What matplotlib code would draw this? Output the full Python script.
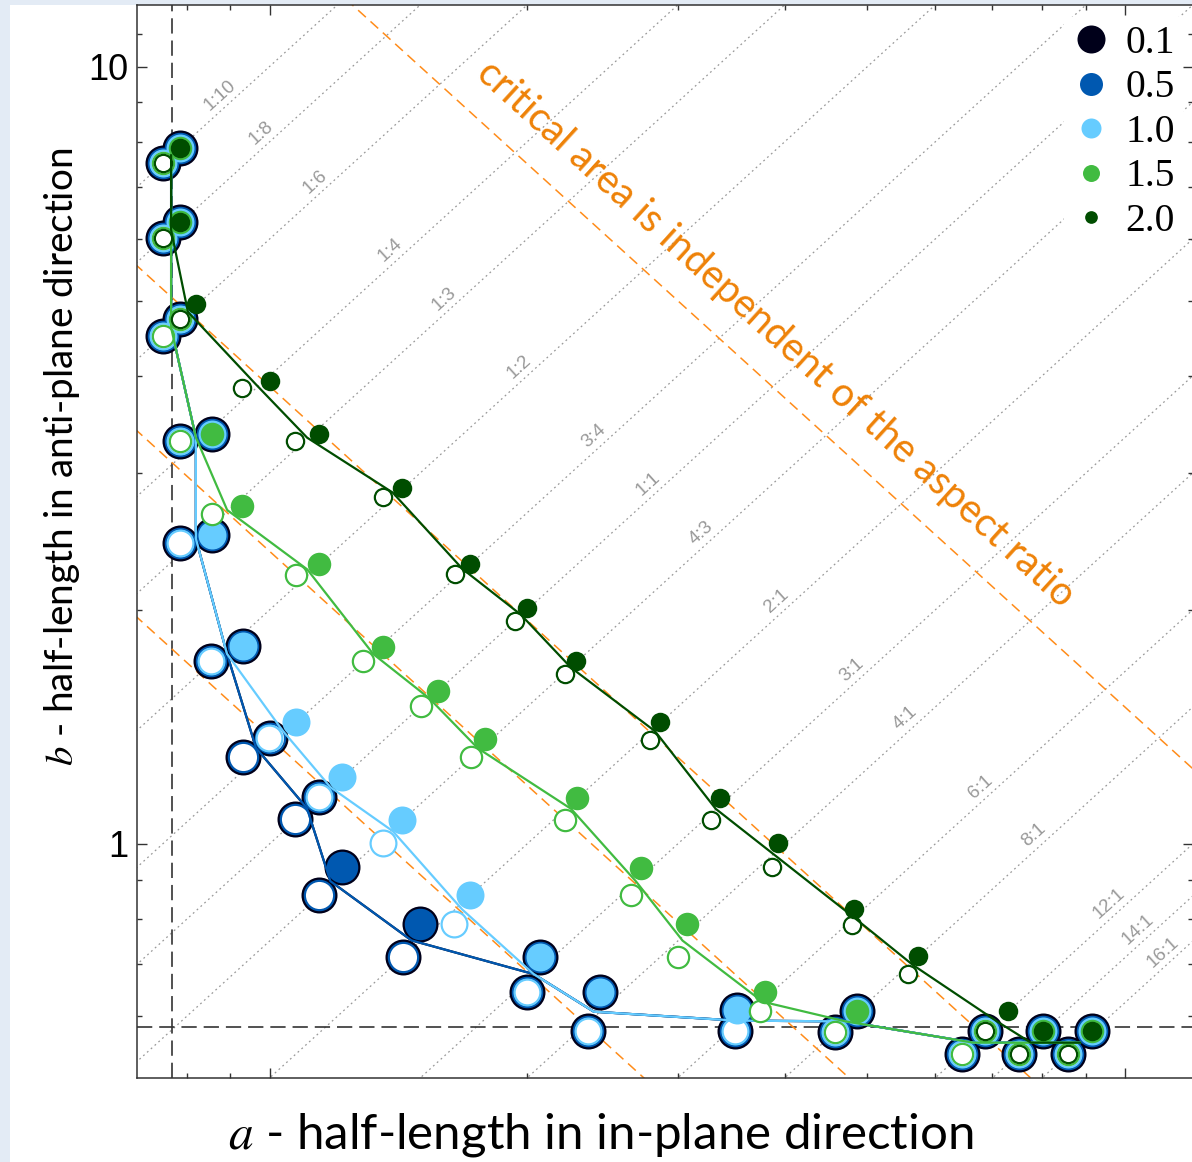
import numpy as np
import matplotlib
matplotlib.use("Agg")
import matplotlib.pyplot as plt
from matplotlib.lines import Line2D
from matplotlib.patches import Rectangle
from matplotlib.ticker import FixedLocator, FixedFormatter, NullFormatter

plt.rcParams['lines.scale_dashes'] = False
plt.rcParams['mathtext.fontset'] = 'stix'

# aspect ratio guides a:b
ratio_labels = ["1:10", "1:8", "1:6", "1:4", "1:3", "1:2", "3:4", "1:1", "4:3",
                "2:1", "3:1", "4:1", "6:1", "8:1", "12:1", "14:1", "16:1"]
ratios = [0.1, 0.125, 0.1667, 0.25, 0.3333, 0.5, 0.75, 1.0, 1.3333,
          2.0, 3.0, 4.0, 6.0, 8.0, 12.0, 14.0, 16.0]

# lines of constant area a*b
crit_areas = [1.37, 2.38, 3.88, 15.0]

# smallest resolvable a and b
a_limit = 0.77
b_limit = 0.581

series = ["0.1", "0.5", "1.0", "1.5", "2.0"]
colors = {"0.1": "#00001a", "0.5": "#0058b0", "1.0": "#66ccff",
          "1.5": "#41bb41", "2.0": "#004d00"}

# upper estimate of each row (filled unless listed in hi_open) and lower estimate (open)
a_hi = {
    "0.1": [0.785, 0.785, 0.785, 0.857, 0.857, 0.930, 1.000, 1.143, 1.214, 1.500, 2.073, 2.432, 3.520, 4.857, 6.860, 8.012, 9.141],
    "0.5": [0.785, 0.785, 0.785, 0.857, 0.857, 0.930, 1.000, 1.143, 1.214, 1.500, 2.073, 2.432, 3.520, 4.857, 6.860, 8.012, 9.141],
    "1.0": [0.785, 0.785, 0.785, 0.857, 0.857, 0.930, 1.073, 1.216, 1.430, 1.716, 2.073, 2.432, 3.520, 4.857, 6.860, 8.012, 9.141],
    "1.5": [0.785, 0.785, 0.785, 0.857, 0.929, 1.142, 1.359, 1.573, 1.786, 2.288, 2.716, 3.077, 3.793, 4.857, 6.860, 8.012, 9.141],
    "2.0": [0.785, 0.785, 0.821, 1.000, 1.142, 1.430, 1.717, 2.001, 2.284, 2.858, 3.360, 3.931, 4.826, 5.723, 7.303, 8.012, 9.141],
}
b_hi = {
    "0.1": [7.86, 6.31, 4.73, 3.37, 2.50, 1.795, 1.367, 1.148, 0.933, 0.790, 0.716, 0.645, 0.612, 0.610, 0.574, 0.574, 0.574],
    "0.5": [7.86, 6.31, 4.73, 3.37, 2.50, 1.795, 1.367, 1.148, 0.933, 0.790, 0.716, 0.645, 0.612, 0.610, 0.574, 0.574, 0.574],
    "1.0": [7.86, 6.31, 4.73, 3.37, 2.50, 1.795, 1.434, 1.218, 1.075, 0.860, 0.716, 0.645, 0.612, 0.610, 0.574, 0.574, 0.574],
    "1.5": [7.86, 6.31, 4.73, 3.37, 2.722, 2.294, 1.790, 1.574, 1.365, 1.145, 0.931, 0.789, 0.645, 0.610, 0.574, 0.574, 0.574],
    "2.0": [7.86, 6.31, 4.944, 3.940, 3.365, 2.866, 2.294, 2.009, 1.720, 1.435, 1.146, 1.003, 0.825, 0.717, 0.610, 0.574, 0.574],
}
a_lo = {
    "0.1": [0.750, 0.750, 0.750, 0.785, 0.785, 0.855, 0.930, 1.070, 1.143, 1.432, 2.001, 2.357, 3.499, 4.580, 6.442, 7.523, 8.586],
    "0.5": [0.750, 0.750, 0.750, 0.785, 0.785, 0.855, 0.930, 1.070, 1.143, 1.432, 2.001, 2.357, 3.499, 4.580, 6.442, 7.523, 8.586],
    "1.0": [0.750, 0.750, 0.750, 0.785, 0.785, 0.855, 0.999, 1.143, 1.359, 1.644, 2.001, 2.357, 3.499, 4.580, 6.442, 7.523, 8.586],
    "1.5": [0.750, 0.750, 0.750, 0.785, 0.857, 1.073, 1.287, 1.502, 1.718, 2.217, 2.649, 3.003, 3.749, 4.580, 6.442, 7.523, 8.586],
    "2.0": [0.750, 0.750, 0.785, 0.929, 1.072, 1.357, 1.646, 1.934, 2.217, 2.788, 3.286, 3.862, 4.800, 5.580, 6.860, 7.523, 8.586],
}
b_lo = {
    "0.1": [7.52, 6.02, 4.50, 3.30, 2.44, 1.720, 1.292, 1.077, 0.860, 0.715, 0.646, 0.574, 0.574, 0.573, 0.537, 0.537, 0.537],
    "0.5": [7.52, 6.02, 4.50, 3.30, 2.44, 1.720, 1.292, 1.077, 0.860, 0.715, 0.646, 0.574, 0.574, 0.573, 0.537, 0.537, 0.537],
    "1.0": [7.52, 6.02, 4.50, 3.30, 2.44, 1.720, 1.367, 1.148, 1.003, 0.789, 0.646, 0.574, 0.574, 0.573, 0.537, 0.537, 0.537],
    "1.5": [7.52, 6.02, 4.50, 3.30, 2.656, 2.217, 1.720, 1.506, 1.292, 1.075, 0.860, 0.715, 0.609, 0.573, 0.537, 0.537, 0.537],
    "2.0": [7.52, 6.02, 4.730, 3.864, 3.299, 2.798, 2.223, 1.936, 1.654, 1.359, 1.075, 0.933, 0.787, 0.681, 0.574, 0.537, 0.537],
}
hi_open = {"0.1": [2, 6, 7, 14], "0.5": [2, 6, 7, 14], "1.0": [2, 14], "1.5": [2, 14], "2.0": []}

# marker outer diameters in pixels
PX = 72.0 / 100.0
marker_px = {"0.1": 36, "0.5": 31.5, "1.0": 28, "1.5": 23.5, "2.0": 19.5}
edge_px = {"0.1": 3.0, "0.5": 2.2, "1.0": 2.2, "1.5": 2.2, "2.0": 2.2}
legend_px = {"0.1": 28, "0.5": 23, "1.0": 20, "1.5": 17, "2.0": 12.7}

W, H = 1192, 1162
fig = plt.figure(figsize=(W / 100, H / 100), dpi=100)
fig.patch.set_facecolor("#e3ebf5")
panel = Rectangle((10 / W, 0), 1 - 10 / W, 1 - 5 / H, transform=fig.transFigure,
                  facecolor="white", edgecolor="none", zorder=-10)
fig.add_artist(panel)

ax = fig.add_axes([137 / W, 84 / H, (1192.7 - 137) / W, 1073 / H])
ax.set_facecolor("white")
ax.set_xscale("log")
ax.set_yscale("log")
ax.set_xlim(0.7, 12)
ax.set_ylim(0.5, 12)
ax.set_autoscale_on(False)

guide = np.array([0.4, 30.0])

# aspect ratio guides
for lab, r in zip(ratio_labels, ratios):
    ax.plot(guide, guide / r, color="#999999", lw=0.9, ls=(0, (1.3, 2.4)), zorder=1)
    a0 = np.sqrt(8.0 * r)
    b0 = np.sqrt(8.0 / r)
    p1 = ax.transData.transform((a0, b0))
    p2 = ax.transData.transform((a0 * 2, b0 * 2))
    ang = np.degrees(np.arctan2(p2[1] - p1[1], p2[0] - p1[0]))
    off = 8.5 * np.array([-np.sin(np.radians(ang)), np.cos(np.radians(ang))])
    ax.annotate(lab, (a0, b0), xytext=off, textcoords="offset points", rotation=ang,
                rotation_mode="anchor", ha="center", va="center", color="#999999",
                fontsize=13.5, family="Liberation Sans", zorder=1)

# constant area lines
for c in crit_areas:
    ax.plot(guide, c / guide, color="#ff8c1a", lw=1.1, ls=(0, (7.5, 4.5)), zorder=1.2)

ax.axvline(a_limit, color="#333333", lw=1.2, ls=(0, (11, 5)), zorder=1.1)
ax.axhline(b_limit, color="#333333", lw=1.2, ls=(0, (11, 5)), zorder=1.1)

# text along the largest constant-area line
a_t = 3.627
b_t = crit_areas[-1] / a_t
p1 = ax.transData.transform((a_t, b_t))
p2 = ax.transData.transform((a_t * 2, b_t / 2))
ang = np.degrees(np.arctan2(p2[1] - p1[1], p2[0] - p1[0]))
off = 30 * np.array([-np.sin(np.radians(ang)), np.cos(np.radians(ang))])
ax.annotate("critical area is independent of the aspect ratio", (a_t, b_t), xytext=off,
            textcoords="offset points", rotation=ang, rotation_mode="anchor",
            ha="center", va="center", color="#ee8208", fontsize=28.5, family="Lato", zorder=3)

# measured points and the mean curve for each series
z = 4
for s in series:
    c = colors[s]
    ahi, bhi = np.array(a_hi[s]), np.array(b_hi[s])
    alo, blo = np.array(a_lo[s]), np.array(b_lo[s])
    is_open = np.zeros(len(ahi), dtype=bool)
    is_open[hi_open[s]] = True
    d, e = marker_px[s], edge_px[s]
    open_a = np.concatenate([alo, ahi[is_open]])
    open_b = np.concatenate([blo, bhi[is_open]])
    ax.plot(open_a, open_b, ls="none", marker="o", ms=(d - e) * PX, mfc="white",
            mec=c, mew=e * PX, zorder=z)
    ax.plot(ahi[~is_open], bhi[~is_open], ls="none", marker="o", ms=d * PX, mfc=c,
            mec="none", mew=0, zorder=z + 0.1)
    ax.plot(np.sqrt(ahi * alo), np.sqrt(bhi * blo), color=c, lw=1.6, zorder=z + 0.2,
            solid_joinstyle="round")
    z += 1

# axes styling
for sp in ax.spines.values():
    sp.set_color("#333333")
    sp.set_linewidth(1.1)
    sp.set_zorder(20)

ax.xaxis.set_major_locator(FixedLocator([1, 10]))
ax.xaxis.set_minor_locator(FixedLocator([0.8, 0.9, 2, 3, 4, 5, 6, 7, 8, 9]))
ax.xaxis.set_major_formatter(NullFormatter())
ax.xaxis.set_minor_formatter(NullFormatter())
ax.yaxis.set_major_locator(FixedLocator([1, 10]))
ax.yaxis.set_major_formatter(FixedFormatter(["1", "10"]))
ax.yaxis.set_minor_locator(FixedLocator([0.6, 0.7, 0.8, 0.9, 2, 3, 4, 5, 6, 7, 8, 9, 11]))
ax.yaxis.set_minor_formatter(NullFormatter())
ax.tick_params(which="both", direction="in", top=True, right=True, color="#333333", width=1.0)
ax.tick_params(which="major", length=7.2, pad=6.5, labelsize=26)
ax.tick_params(which="minor", length=3.6)
for t in ax.get_yticklabels():
    t.set_family("Liberation Sans")

ax.set_xlabel(r"$a$ - half-length in in-plane direction", family="Lato", fontsize=35.5)
ax.xaxis.set_label_coords((601 - 137) / 1055.7, (1078 - 1135) / 1073)
ax.xaxis.label.set_va("center")
ax.set_ylabel(r"$b$ - half-length in anti-plane direction", family="Lato", fontsize=27.8)
ax.yaxis.set_label_coords((62 - 137) / 1055.7, (1078 - 457) / 1073)
ax.yaxis.label.set_va("center")

handles = [Line2D([], [], ls="none", marker="o", ms=legend_px[s] * PX, mfc=colors[s], mec="none")
           for s in series]
leg = ax.legend(handles, series, loc="upper right", bbox_to_anchor=(1183 / W, 1 - 17 / H),
                bbox_transform=fig.transFigure, frameon=True, fancybox=False, framealpha=1,
                facecolor="white", edgecolor="none", prop={"family": "Liberation Serif", "size": 28.5},
                handlelength=0.95, handletextpad=0.4, labelspacing=0.19, borderpad=0.2,
                borderaxespad=0)
leg.set_zorder(15)

fig.savefig("out.png", dpi=100)
